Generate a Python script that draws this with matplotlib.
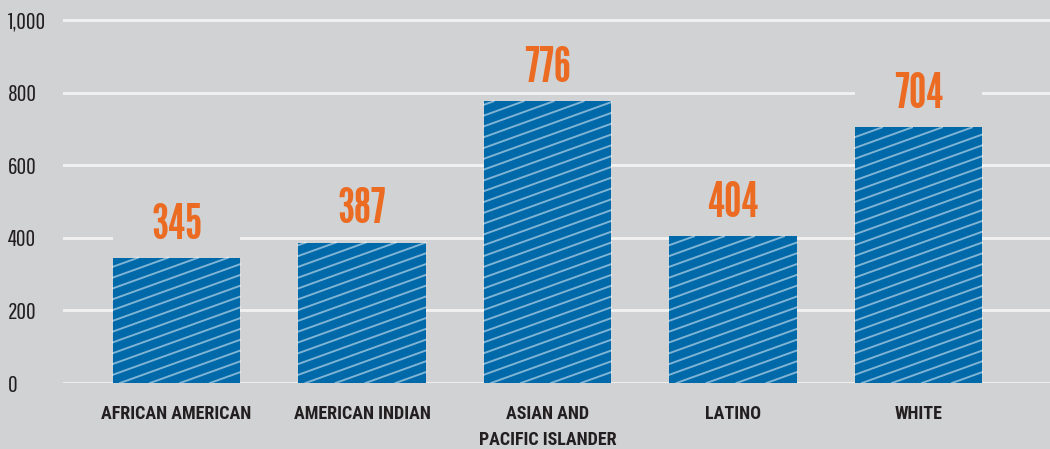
import matplotlib
matplotlib.use("Agg")
import matplotlib.pyplot as plt
import numpy as np

# values
categories = ["AFRICAN AMERICAN", "AMERICAN INDIAN", "ASIAN AND\nPACIFIC ISLANDER", "LATINO", "WHITE"]
values = [345, 387, 776, 404, 704]
yticks = [0, 200, 400, 600, 800, 1000]
ytick_labels = ["0", "200", "400", "600", "800", "1,000"]

BG = "#d1d2d4"
BLUE = "#0069aa"
ORANGE = "#ec6b23"
INK = "#231f20"
VALUE_FONT = ["League Gothic", "Oswald", "DejaVu Sans"]
TICK_FONT = ["Pathway Gothic One", "Roboto Condensed", "DejaVu Sans"]
CAT_FONT = ["Roboto Condensed", "DejaVu Sans"]

W, H = 1050, 449
fig = plt.figure(figsize=(W / 100, H / 100), dpi=100, facecolor=BG)

y0_px, y1000_px = 383, 20
ymax = 1010
ppu = (y0_px - y1000_px) / 1000
ax = fig.add_axes([63 / W, (H - y0_px) / H, 1 - 63 / W, ymax * ppu / H])
ax.set_facecolor(BG)

x = np.arange(len(categories))
bar_w = 0.685

# white grid lines
for t in yticks:
    ax.axhline(t, color="#f2f2f2", lw=2, zorder=0.5)

# gray label boxes that cut through the grid lines
ax.bar(x, [150] * len(values), bottom=np.array(values) + 30, width=bar_w,
       color=BG, zorder=1.5)

bars = ax.bar(x, values, width=bar_w, color=BLUE, zorder=2)

ax.set_xlim(-0.612, 4.709)
ax.set_ylim(0, ymax)

# diagonal hatch lines, clipped by hand to each bar (pixel space)
fig.canvas.draw()
slope = 0.36
step = 10.8
for b in bars:
    bb = b.get_window_extent()
    x0, x1, y0, y1 = bb.x0, bb.x1, bb.y0, bb.y1
    for c in np.arange(y0 - slope * (x1 - x0), y1, step):
        xa = max(x0, x0 + (y0 - c) / slope)
        xb = min(x1, x0 + (y1 - c) / slope)
        if xb <= xa:
            continue
        xs = np.array([xa, xb])
        ys = c + slope * (xs - x0)
        ax.add_artist(plt.Line2D(xs, ys, transform=None, color="white",
                                 alpha=0.5, lw=1.4, zorder=3))

# value labels
for xi, v in zip(x, values):
    ax.text(xi, v + 90, str(v), ha="center", va="center", color=ORANGE,
            fontsize=35, family=VALUE_FONT, zorder=4)

ax.set_xticks(x)
ax.set_xticklabels(categories, family=CAT_FONT, fontsize=13, fontweight="bold",
                   color=INK, linespacing=1.55, va="top")
ax.tick_params(axis="x", length=0, pad=16)

ax.set_yticks(yticks)
ax.set_yticklabels(ytick_labels, family=TICK_FONT, fontsize=17, color=INK, ha="left")
ax.tick_params(axis="y", length=0, pad=40)

for s in ax.spines.values():
    s.set_visible(False)

fig.savefig("out.png", dpi=100, facecolor=BG)
